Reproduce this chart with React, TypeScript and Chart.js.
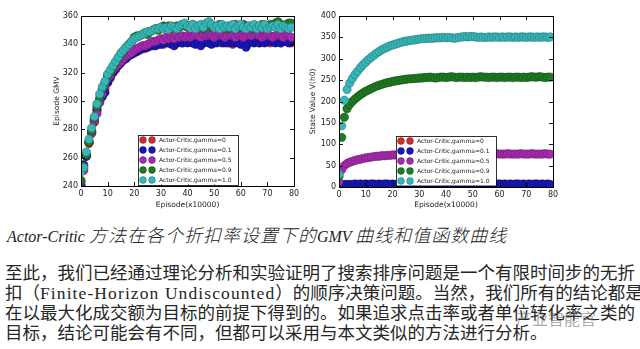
import React, { useEffect, useRef } from "react";
import { Chart, registerables } from "chart.js";
Chart.register(...registerables);

// ---------- data ----------
const episodes = [
  0, 1, 2, 3, 4, 5, 6, 7, 8, 9, 10, 11, 12, 13, 14, 15, 16, 17, 18, 19,
  20, 21, 22, 23, 24, 25, 26, 27, 28, 29, 30, 31, 32, 33, 34, 35, 36, 37, 38, 39,
  40, 41, 42, 43, 44, 45, 46, 47, 48, 49, 50, 51, 52, 53, 54, 55, 56, 57, 58, 59,
  60, 61, 62, 63, 64, 65, 66, 67, 68, 69, 70, 71, 72, 73, 74, 75, 76, 77, 78, 79,
];

const seriesLabels = [
  "Actor-Critic,gamma=0",
  "Actor-Critic,gamma=0.1",
  "Actor-Critic,gamma=0.5",
  "Actor-Critic,gamma=0.9",
  "Actor-Critic,gamma=1.0",
];
const seriesColors = ["#cf2c2c", "#1717b5", "#a62aae", "#1f7a22", "#36b6b6"];
const seriesEdges = ["#7a1a1a", "#0a0a6a", "#601a66", "#0f4712", "#1f6f6f"];

// Left chart: Episode GMV
const gmvGamma0 = [
  241, 251, 261, 270, 277, 285, 293, 299, 304, 309,
  313, 316, 320, 322, 325, 327, 329, 331, 332, 333,
  334, 335, 336, 337, 337, 338, 339, 339, 340, 340,
  341, 340, 341, 342, 341, 342, 341, 342, 341, 342,
  343, 342, 341, 342, 343, 342, 341, 342, 343, 342,
  341, 342, 343, 342, 341, 342, 341, 340, 342, 343,
  342, 341, 342, 343, 342, 343, 342, 341, 342, 343,
  342, 341, 342, 343, 342, 341, 342, 343, 342, 341,
];
const gmvGamma01 = [
  240, 255, 261, 271, 278, 286, 294, 300, 303, 306,
  313, 317, 320, 323, 325, 327, 329, 330, 332, 333,
  334, 335, 336, 337, 338, 338, 339, 340, 339, 341,
  340, 341, 342, 341, 340, 339, 341, 342, 341, 342,
  341, 342, 341, 340, 341, 339, 341, 342, 341, 340,
  342, 341, 342, 341, 342, 341, 342, 341, 342, 341,
  340, 341, 338, 341, 342, 341, 342, 341, 342, 341,
  342, 343, 342, 341, 342, 341, 343, 342, 341, 342,
];
const gmvGamma05 = [
  243, 252, 262, 271, 278, 286, 291, 299, 305, 311,
  316, 318, 322, 324, 326, 328, 330, 332, 333, 334,
  336, 337, 338, 339, 339, 340, 341, 342, 342, 343,
  344, 343, 345, 344, 345, 344, 346, 345, 346, 345,
  346, 345, 346, 347, 346, 345, 347, 346, 347, 346,
  345, 346, 347, 346, 345, 346, 347, 346, 345, 347,
  346, 345, 346, 347, 346, 347, 348, 346, 345, 346,
  347, 346, 345, 346, 347, 346, 345, 347, 346, 345,
];
const gmvGamma09 = [
  244, 254, 262, 271, 279, 288, 296, 302, 308, 313,
  318, 320, 324, 327, 330, 333, 335, 338, 340, 342,
  345, 346, 346, 347, 348, 347, 349, 350, 351, 350,
  352, 353, 352, 353, 351, 352, 353, 352, 354, 353,
  352, 353, 354, 353, 352, 353, 351, 353, 354, 352,
  353, 352, 354, 353, 352, 351, 353, 352, 354, 353,
  352, 354, 353, 352, 353, 351, 353, 352, 354, 352,
  353, 354, 353, 355, 356, 354, 353, 354, 355, 355,
];
const gmvGamma10 = [
  250, 253, 264, 273, 281, 289, 298, 305, 310, 314,
  319, 322, 325, 328, 331, 334, 336, 338, 340, 342,
  344, 345, 346, 347, 348, 349, 349, 350, 351, 351,
  352, 351, 352, 351, 353, 352, 351, 353, 354, 355,
  353, 352, 354, 351, 353, 354, 352, 355, 356, 354,
  352, 353, 351, 354, 352, 353, 352, 354, 351, 353,
  354, 352, 351, 353, 352, 354, 351, 353, 352, 354,
  351, 352, 353, 352, 354, 351, 353, 352, 351, 352,
];

// Right chart: State Value V(h0)
const valGamma0 = [
  1, 3, 3, 3, 3, 3, 3, 3, 3, 3,
  3, 3, 3, 3, 3, 3, 3, 3, 3, 3,
  3, 3, 3, 3, 3, 3, 3, 3, 3, 3,
  3, 3, 3, 3, 3, 3, 3, 3, 3, 3,
  3, 3, 3, 3, 3, 3, 3, 3, 3, 3,
  3, 3, 3, 3, 3, 3, 3, 3, 3, 3,
  3, 3, 3, 3, 3, 3, 3, 3, 3, 3,
  3, 3, 3, 3, 3, 3, 3, 3, 3, 3,
];
const valGamma01 = [
  4, 5, 6, 6, 6, 6, 7, 6, 7, 6,
  7, 6, 7, 7, 6, 7, 6, 7, 7, 6,
  7, 6, 7, 6, 7, 7, 6, 7, 6, 7,
  6, 7, 7, 6, 7, 6, 7, 6, 7, 7,
  6, 7, 6, 7, 6, 7, 7, 6, 7, 6,
  7, 6, 7, 7, 6, 7, 6, 7, 6, 7,
  7, 6, 7, 6, 7, 6, 7, 7, 6, 7,
  6, 7, 6, 7, 7, 6, 7, 6, 7, 6,
];
const valGamma05 = [
  12, 40, 50, 55, 58, 60, 62, 64, 65, 67,
  68, 69, 70, 71, 72, 72, 73, 73, 74, 74,
  75, 75, 75, 76, 76, 76, 76, 77, 77, 77,
  77, 77, 77, 77, 77, 78, 77, 77, 77, 78,
  77, 77, 78, 77, 77, 77, 78, 77, 77, 77,
  78, 77, 77, 77, 77, 78, 77, 77, 77, 78,
  77, 77, 77, 78, 77, 77, 77, 77, 78, 77,
  77, 77, 78, 77, 77, 77, 77, 78, 77, 77,
];
const valGamma09 = [
  25, 116, 163, 183, 193, 200, 206, 211, 216, 220,
  224, 227, 230, 233, 236, 238, 240, 242, 244, 245,
  247, 248, 249, 250, 251, 252, 253, 253, 254, 254,
  255, 255, 256, 256, 257, 256, 255, 256, 257, 257,
  256, 257, 258, 257, 256, 257, 257, 256, 257, 256,
  257, 256, 257, 258, 257, 257, 256, 257, 257, 256,
  257, 257, 256, 257, 257, 256, 257, 257, 256, 257,
  256, 257, 258, 257, 257, 258, 257, 256, 257, 257,
];
const valGamma10 = [
  30, 143, 203, 228, 243, 254, 263, 271, 279, 286,
  292, 298, 303, 308, 313, 317, 321, 324, 327, 330,
  332, 334, 336, 338, 340, 341, 342, 343, 344, 345,
  346, 347, 347, 348, 348, 348, 349, 349, 349, 350,
  349, 350, 349, 348, 349, 350, 351, 352, 351, 352,
  352, 351, 350, 351, 350, 350, 351, 350, 351, 351,
  350, 351, 350, 351, 351, 350, 351, 350, 351, 351,
  350, 351, 351, 350, 351, 350, 351, 351, 350, 351,
];

const xTicks = [0, 10, 20, 30, 40, 50, 60, 70, 80];
const gmvTicks = [240, 260, 280, 300, 320, 340, 360];
const valTicks = [0, 50, 100, 150, 200, 250, 300, 350, 400];

// ---------- plugins ----------
const framePlugin = {
  id: "mplFrame",
  afterDraw(chart: any) {
    const { ctx, chartArea: a, scales } = chart;
    ctx.save();
    ctx.strokeStyle = "#000";
    ctx.lineWidth = 0.9;
    const L = 4;
    const line = (x1: number, y1: number, x2: number, y2: number) => {
      ctx.beginPath();
      ctx.moveTo(x1, y1);
      ctx.lineTo(x2, y2);
      ctx.stroke();
    };
    scales.x.ticks.forEach((t: any) => {
      const px = Math.round(scales.x.getPixelForValue(t.value)) + 0.5;
      line(px, a.bottom, px, a.bottom - L);
      line(px, a.top, px, a.top + L);
    });
    scales.y.ticks.forEach((t: any) => {
      const py = Math.round(scales.y.getPixelForValue(t.value)) + 0.5;
      line(a.left, py, a.left + L, py);
      line(a.right, py, a.right - L, py);
    });
    ctx.lineWidth = 1;
    ctx.strokeRect(Math.round(a.left) + 0.5, Math.round(a.top) + 0.5, Math.round(a.right - a.left), Math.round(a.bottom - a.top));
    ctx.restore();
  },
};

const insetLegendPlugin = {
  id: "insetLegend",
  afterDraw(chart: any, _args: any, opts: any) {
    const { ctx, chartArea: a } = chart;
    const ds = chart.data.datasets;
    const boxL = a.left + opts.offsetLeft;
    const boxW = opts.width;
    const boxH = opts.height;
    const boxT = a.bottom - opts.offsetBottom - boxH;
    ctx.save();
    ctx.fillStyle = "#fff";
    ctx.fillRect(boxL, boxT, boxW, boxH);
    ctx.strokeStyle = "#000";
    ctx.lineWidth = 0.8;
    ctx.strokeRect(Math.round(boxL) + 0.5, Math.round(boxT) + 0.5, boxW, boxH);
    const rowStep = boxH / ds.length;
    ctx.font = "6px 'DejaVu Sans'";
    ctx.textBaseline = "middle";
    ds.forEach((d: any, i: number) => {
      const cy = boxT + rowStep * (i + 0.5) + 0.5;
      [5, 14].forEach((dx) => {
        ctx.beginPath();
        ctx.arc(boxL + dx, cy, 3.4, 0, Math.PI * 2);
        ctx.fillStyle = d.backgroundColor;
        ctx.fill();
        ctx.lineWidth = 0.5;
        ctx.strokeStyle = d.borderColor;
        ctx.stroke();
      });
      ctx.fillStyle = "#222";
      ctx.fillText(d.label, boxL + 21, cy);
    });
    ctx.restore();
  },
};

function makeConfig(
  series: number[][],
  yMin: number,
  yMax: number,
  yStep: number,
  yTitle: string,
  yAxisWidth: number,
  yTitlePad: number,
  padding: any,
  xAxisHeight: number
): any {
  return {
    type: "scatter",
    data: {
      datasets: series.map((vals, i) => ({
        label: seriesLabels[i],
        data: vals.map((v, j) => ({ x: episodes[j], y: v })),
        backgroundColor: seriesColors[i],
        borderColor: seriesEdges[i],
        borderWidth: 0.5,
        pointRadius: 4.2,
        pointHoverRadius: 4.2,
        showLine: false,
        clip: 0,
        order: series.length - i,
      })),
    },
    options: {
      responsive: false,
      animation: false,
      events: [],
      layout: { padding },
      plugins: {
        legend: { display: false },
        tooltip: { enabled: false },
        insetLegend: { offsetLeft: 57, offsetBottom: 1.5, width: 100, height: 50 },
      },
      scales: {
        x: {
          type: "linear",
          min: 0,
          max: 80,
          afterBuildTicks: (s: any) => {
            s.ticks = xTicks.map((v) => ({ value: v }));
          },
          afterFit: (s: any) => {
            s.height = xAxisHeight;
          },
          grid: { display: false, drawTicks: false },
          border: { display: false },
          ticks: {
            padding: 3,
            color: "#222",
            font: { family: "'DejaVu Sans'", size: 8 },
            maxRotation: 0,
          },
          title: {
            display: true,
            text: "Episode(x10000)",
            color: "#222",
            font: { family: "'DejaVu Sans'", size: 7.5 },
            padding: { top: 0, bottom: 5.5 },
          },
        },
        y: {
          type: "linear",
          min: yMin,
          max: yMax,
          afterBuildTicks: (s: any) => {
            s.ticks = (yMin === 240 ? gmvTicks : valTicks).map((v) => ({ value: v }));
          },
          afterFit: (s: any) => {
            s.width = yAxisWidth;
          },
          grid: { display: false, drawTicks: false },
          border: { display: false },
          ticks: {
            padding: 3,
            color: "#222",
            font: { family: "'DejaVu Sans'", size: 8 },
            stepSize: yStep,
          },
          title: {
            display: true,
            text: yTitle,
            color: "#222",
            font: { family: "'DejaVu Sans'", size: 7.5 },
            padding: { top: yTitlePad, bottom: 0 },
          },
        },
      },
    },
    plugins: [framePlugin, insetLegendPlugin],
  };
}

function ChartCanvas({ config, width, height }: { config: () => any; width: number; height: number }) {
  const ref = useRef<HTMLCanvasElement | null>(null);
  useEffect(() => {
    if (!ref.current) return;
    const chart = new Chart(ref.current, config());
    return () => chart.destroy();
  }, []);
  return <canvas ref={ref} width={width} height={height} style={{ width, height, display: "block" }} />;
}

const textFont = "'Liberation Serif', 'Noto Sans CJK SC', serif";
const cjkFont = "'Noto Sans CJK SC', sans-serif";

const bodyLines = [
  "至此，我们已经通过理论分析和实验证明了搜索排序问题是一个有限时间步的无折",
  "扣（Finite-Horizon Undiscounted）的顺序决策问题。当然，我们所有的结论都是",
  "在以最大化成交额为目标的前提下得到的。如果追求点击率或者单位转化率之类的",
  "目标，结论可能会有不同，但都可以采用与本文类似的方法进行分析。",
];

function renderLine(l: string) {
  const parts = l.split(/([A-Za-z][A-Za-z\- ]*[A-Za-z])/);
  return parts.map((p, i) =>
    /^[A-Za-z]/.test(p) ? (
      <span key={i} style={{ letterSpacing: 1.1 }}>
        {p}
      </span>
    ) : (
      <span key={i}>{p}</span>
    )
  );
}

export default function App() {
  const leftConfig = () =>
    makeConfig(
      [gmvGamma0, gmvGamma01, gmvGamma05, gmvGamma09, gmvGamma10],
      240, 360, 20, "Episode GMV", 81, 52.5,
      { top: 16, right: 26, bottom: 0, left: 0 }, 29
    );
  const rightConfig = () =>
    makeConfig(
      [valGamma0, valGamma01, valGamma05, valGamma09, valGamma10],
      0, 400, 50, "State Value V(h0)", 39, 8.5,
      { top: 16, right: 87, bottom: 0, left: 0 }, 28
    );
  return (
    <div style={{ position: "absolute", left: 0, top: 0, width: 640, height: 349, background: "#fff", overflow: "hidden" }}>
      <div style={{ position: "absolute", left: 0, top: 0 }}>
        <ChartCanvas config={leftConfig} width={320} height={215} />
      </div>
      <div style={{ position: "absolute", left: 300, top: 0 }}>
        <ChartCanvas config={rightConfig} width={340} height={215} />
      </div>
      <div
        style={{
          position: "absolute",
          left: 7,
          top: 224,
          lineHeight: "20px",
          whiteSpace: "nowrap",
          fontStyle: "italic",
          color: "#222",
        }}
      >
        <span style={{ fontFamily: "'Liberation Serif', serif", fontSize: 16 }}>Actor-Critic </span>
        <span style={{ fontFamily: cjkFont, fontSize: 18, letterSpacing: 1, fontWeight: 300 }}>方法在各个折扣率设置下的</span>
        <span style={{ fontFamily: "'Liberation Serif', serif", fontSize: 16 }}>GMV </span>
        <span style={{ fontFamily: cjkFont, fontSize: 18, letterSpacing: 1, fontWeight: 300 }}>曲线和值函数曲线</span>
      </div>
      <div style={{ position: "absolute", left: 5, top: 263, color: "#262626", fontFamily: textFont, fontSize: 17.5 }}>
        {bodyLines.map((l, i) => (
          <div key={i} style={{ height: 20, lineHeight: "20px", whiteSpace: "nowrap" }}>
            {renderLine(l)}
          </div>
        ))}
      </div>
      <div
        style={{
          position: "absolute",
          left: 516,
          top: 309,
          fontFamily: cjkFont,
          fontSize: 16,
          lineHeight: "18px",
          color: "rgba(90,90,90,0.5)",
          whiteSpace: "nowrap",
        }}
      >
        产业智能官
      </div>
    </div>
  );
}
